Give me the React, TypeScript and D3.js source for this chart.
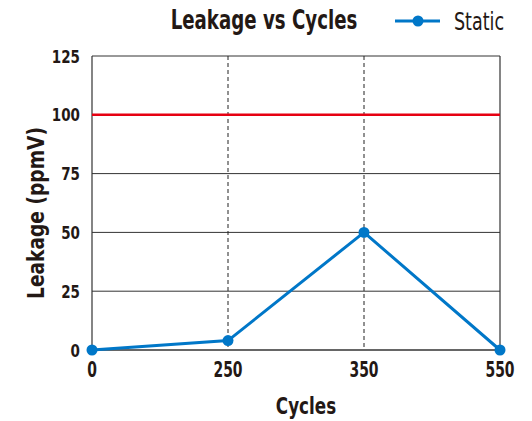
import React from "react";
import * as d3 from "d3";

const categories = ["0", "250", "350", "550"];
const staticValues = [0, 4, 50, 0];
const yTicks = [0, 25, 50, 75, 100, 125];
const thresholdValue = 100;
const dashedCategories = ["250", "350"];

const W = 532, H = 421;
const M = { left: 92, right: 32, top: 56, bottom: 71 };
const FONT = "'DejaVu Sans', sans-serif";
const INK = "#231815";

function CText(props: { x: number; y: number; sx: number; rotate?: number; anchor?: string; size: number; bold?: boolean; dy?: string; children: React.ReactNode }) {
  const { x, y, sx, rotate = 0, anchor = "start", size, bold = true, dy, children } = props;
  return (
    <text
      transform={`translate(${x},${y}) rotate(${rotate}) scale(${sx},1)`}
      textAnchor={anchor}
      fontSize={size}
      fontWeight={bold ? "bold" : "normal"}
      fill={INK}
      dy={dy}
    >
      {children}
    </text>
  );
}

export default function App() {
  const x = d3.scalePoint<string>().domain(categories).range([M.left, W - M.right]);
  const y = d3.scaleLinear().domain([0, 125]).range([H - M.bottom, M.top]);
  const line = d3.line<number>().x((_, i) => x(categories[i])!).y((d) => y(d));
  const x0 = M.left, x1 = W - M.right;
  return (
    <svg width={W} height={H} style={{ position: "absolute", left: 0, top: 0, background: "#fff" }} fontFamily={FONT}>
      {yTicks.filter(t => t !== 0 && t !== thresholdValue).map(t => (
        <line key={t} x1={x0} x2={x1} y1={y(t)} y2={y(t)} stroke="#333" strokeWidth={1} />
      ))}
      {dashedCategories.map(c => (
        <line key={c} x1={x(c)} x2={x(c)} y1={y(125)} y2={y(0)} stroke="#222" strokeWidth={1} strokeDasharray="4,3" />
      ))}
      <line x1={x0} x2={x0} y1={y(125)} y2={y(0)} stroke="#333" strokeWidth={1.2} />
      <line x1={x1} x2={x1} y1={y(125)} y2={y(0)} stroke="#333" strokeWidth={1.2} />
      <line x1={x0} x2={x1} y1={y(0)} y2={y(0)} stroke="#333" strokeWidth={1.5} />
      <line x1={x0} x2={x1} y1={y(thresholdValue)} y2={y(thresholdValue)} stroke="#e60012" strokeWidth={2.5} />
      <path d={line(staticValues)!} fill="none" stroke="#0077c8" strokeWidth={3} />
      {staticValues.map((v, i) => (
        <circle key={i} cx={x(categories[i])} cy={y(v)} r={5.5} fill="#0077c8" />
      ))}
      {yTicks.map(t => (
        <CText key={t} x={80} y={y(t) + 6.5} sx={0.75} anchor="end" size={18}>{t}</CText>
      ))}
      {categories.map(c => (
        <CText key={c} x={x(c)!} y={377} sx={0.68} anchor="middle" size={20.5}>{c}</CText>
      ))}
      <CText x={306} y={414} sx={0.72} anchor="middle" size={23.3}>Cycles</CText>
      <CText x={44} y={213} rotate={-90} sx={0.8} anchor="middle" size={23.3}>Leakage (ppmV)</CText>
      <CText x={264} y={29} sx={0.7} anchor="middle" size={26}>Leakage vs Cycles</CText>
      <line x1={395} x2={440} y1={21} y2={21} stroke="#0077c8" strokeWidth={3} />
      <circle cx={418} cy={21} r={5.5} fill="#0077c8" />
      <CText x={454} y={30} sx={0.71} size={24.7} bold={false}>Static</CText>
    </svg>
  );
}
